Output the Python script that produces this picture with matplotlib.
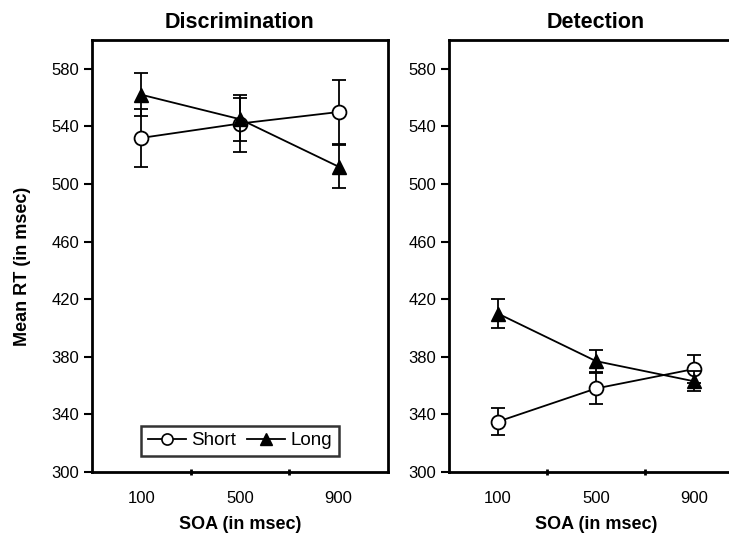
import matplotlib
matplotlib.use("Agg")
import matplotlib.pyplot as plt
from matplotlib.lines import Line2D
import numpy as np

plt.rcParams['font.family'] = ['Liberation Sans', 'DejaVu Sans']

soa_labels = ["100", "500", "900"]
titles = ["Discrimination", "Detection"]

disc_short = [532, 542, 550]
disc_short_err = [20, 20, 22]
disc_long = [562, 545, 512]
disc_long_err = [15, 15, 15]

det_short = [335, 358, 371.5]
det_short_err = [9.5, 11, 9.5]
det_long = [410, 377, 363]
det_long_err = [10, 7.5, 7]

yticks = [300, 340, 380, 420, 460, 500, 540, 580]

fig = plt.figure(figsize=(7.29, 5.35), dpi=100)
ax1 = fig.add_axes([92/729, 1-472/535, 296/729, 432/535])
ax2 = fig.add_axes([449/729, 1-472/535, 294/729, 432/535])

data = [
    (disc_short, disc_short_err, disc_long, disc_long_err),
    (det_short, det_short_err, det_long, det_long_err),
]

x = np.arange(len(soa_labels))
for ax, title, (s, se, l, le) in zip([ax1, ax2], titles, data):
    ax.errorbar(x, s, yerr=se, color='black', lw=1.3, marker='o', ms=10,
                mfc='white', mec='black', mew=1.3, capsize=5, elinewidth=1.3,
                capthick=1.3, zorder=3)
    ax.errorbar(x, l, yerr=le, color='black', lw=1.3, marker='^', ms=10,
                mfc='black', mec='black', capsize=5, elinewidth=1.3,
                capthick=1.3, zorder=4)
    ax.set_xlim(-0.5, 2.5)
    ax.set_ylim(300, 600)
    ax.set_yticks(yticks)
    ax.set_xticks(x)
    ax.set_xticklabels(soa_labels)
    ax.set_xticks([0.5, 1.5], minor=True)
    ax.tick_params(axis='x', which='major', length=0, labelsize=12, pad=14)
    ax.tick_params(axis='x', which='minor', length=5, width=2, direction='inout')
    ax.tick_params(axis='y', length=6, width=1.5, labelsize=12, direction='out', pad=3)
    for sp in ax.spines.values():
        sp.set_linewidth(2)
    ax.set_title(title, fontsize=15.5, fontweight='bold', pad=9)
    ax.set_xlabel("SOA (in msec)", fontsize=13, fontweight='bold', labelpad=7)

ax1.set_ylabel("Mean RT (in msec)", fontsize=13, fontweight='bold')
ax1.yaxis.set_label_coords(-0.206, 0.477)

handles = [
    Line2D([], [], color='black', lw=1.3, marker='o', ms=8, mfc='white', mec='black', mew=1.2),
    Line2D([], [], color='black', lw=1.3, marker='^', ms=9, mfc='black', mec='black'),
]
leg = ax1.legend(handles, ['Short', 'Long'], loc='lower center', ncol=2,
                 frameon=True, fancybox=False, fontsize=13.5, handlelength=2.0,
                 columnspacing=0.6, handletextpad=0.3, borderpad=0.35,
                 borderaxespad=0, bbox_to_anchor=(0.5, 0.037))
leg.get_frame().set_edgecolor('black')
leg.get_frame().set_linewidth(1.8)

fig.savefig("out.png", dpi=100)
